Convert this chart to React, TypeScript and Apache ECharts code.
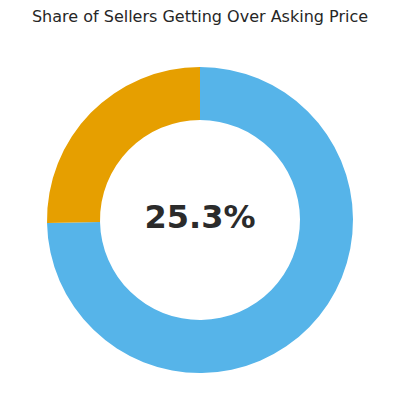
import React, { useEffect, useRef } from "react";
import * as echarts from "echarts";

const categories = ["Under/At Asking", "Over Asking"];
const values = [74.7, 25.3];
const colors = ["#56B4E9", "#E69F00"];
const centerLabel = "25.3%";
const titleText = "Share of Sellers Getting Over Asking Price";

export default function App() {
  const ref = useRef<HTMLDivElement>(null);
  useEffect(() => {
    document.body.style.margin = "0";
    const chart = echarts.init(ref.current!, undefined, { renderer: "svg" });
    chart.setOption({
      animation: false,
      backgroundColor: "#ffffff",
      title: {
        text: titleText,
        left: "center",
        top: 3,
        textStyle: {
          fontFamily: "DejaVu Sans",
          fontSize: 16,
          fontWeight: "normal",
          color: "#262626",
        },
      },
      graphic: [
        {
          type: "text",
          x: 200,
          y: 217,
          style: {
            text: centerLabel,
            fontFamily: "DejaVu Sans",
            fontSize: 32,
            fontWeight: "bold",
            fill: "#2b2b2b",
            align: "center",
            verticalAlign: "middle",
          },
        },
      ],
      series: [
        {
          type: "pie",
          center: [200, 220],
          radius: [100, 153],
          startAngle: 90,
          clockwise: true,
          label: { show: false },
          labelLine: { show: false },
          emphasis: { disabled: true },
          itemStyle: { borderWidth: 0 },
          data: categories.map((c, i) => ({
            name: c,
            value: values[i],
            itemStyle: { color: colors[i] },
          })),
        },
      ],
    });
    return () => chart.dispose();
  }, []);
  return <div ref={ref} style={{ width: 400, height: 420 }} />;
}
